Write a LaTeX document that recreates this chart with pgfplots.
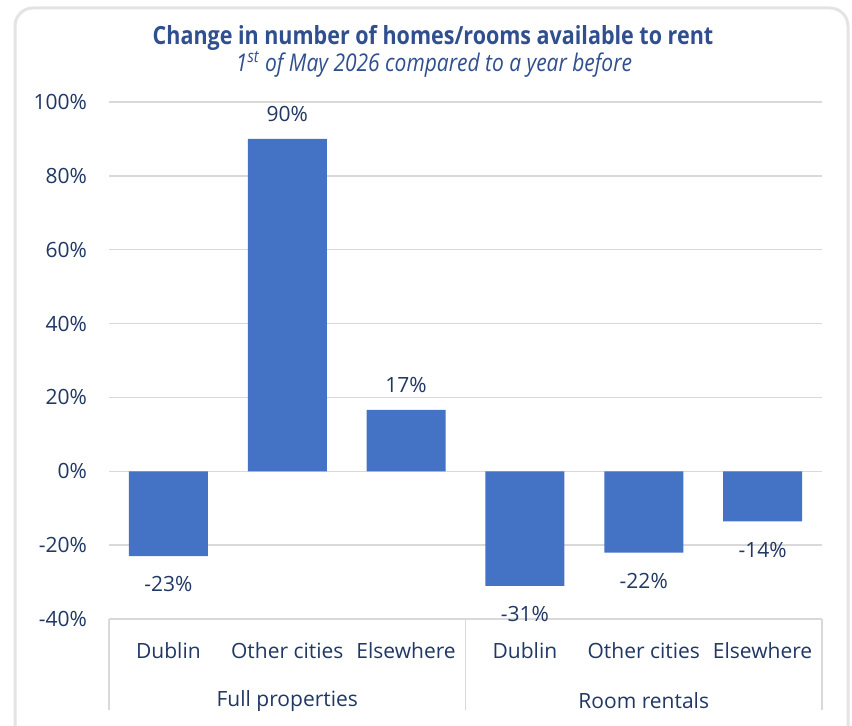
\documentclass[border=0pt]{standalone}
\usepackage{pgfplots}
\pgfplotsset{compat=1.18}
\usepackage{fontspec}
\setmainfont{Open Sans}
\newfontfamily\titlefont[FakeStretch=0.86]{Open Sans}
\definecolor{barblue}{HTML}{4472C4}
\definecolor{labnavy}{HTML}{203864}
\definecolor{titleblue}{HTML}{2F4F8F}
\definecolor{gridgray}{HTML}{D9D9D9}
\definecolor{framegray}{HTML}{E4E4E4}
\begin{document}
\begin{tikzpicture}
\path[use as bounding box] (0,0) rectangle (426pt,363pt);
\draw[framegray, line width=1.5pt, fill=white, rounded corners=9pt] (7.5pt,-20pt) rectangle (424pt,359pt);
\node[font=\titlefont\bfseries\fontsize{12.5}{14}\selectfont, text=titleblue] at (216.5pt,344pt) {Change in number of homes/rooms available to rent};
\node[font=\titlefont\itshape\fontsize{12.2}{14}\selectfont, text=titleblue] at (217pt,331pt) {1\textsuperscript{st} of May 2026 compared to a year before};
\begin{axis}[
  at={(54.5pt,53.5pt)}, anchor=south west,
  scale only axis, width=356.5pt, height=258.5pt,
  xmin=-0.5, xmax=5.5, ymin=-40, ymax=100,
  ytick={-40,-20,0,20,40,60,80,100},
  yticklabel={\pgfmathprintnumber{\tick}\%},
  xtick={0,1,2,3,4,5},
  xticklabels={Dublin,Other cities,Elsewhere,Dublin,Other cities,Elsewhere},
  ymajorgrids, grid style={gridgray, line width=0.75pt},
  axis line style={draw=none},
  major tick length=0pt,
  tick label style={font=\fontsize{10.5}{12}\selectfont, text=labnavy},
  yticklabel style={xshift=-7.5pt},
  xticklabel style={anchor=center, yshift=-16pt},
  /pgf/number format/assume math mode=true,
  clip=false,
  ybar, bar width=39.5pt,
  point meta=explicit symbolic,
  nodes near coords={\pgfplotspointmeta\%},
]
% positive changes
\addplot[fill=barblue, draw=none, bar shift=0pt,
  every node near coord/.append style={font=\fontsize{10.5}{12}\selectfont, text=labnavy, anchor=south, inner sep=8.5pt}]
  table[meta=lab] {
x y lab
1 90 90
2 16.6 17
};
% negative changes
\addplot[fill=barblue, draw=none, bar shift=0pt,
  every node near coord/.append style={font=\fontsize{10.5}{12}\selectfont, text=labnavy, anchor=north, inner sep=10pt}]
  table[meta=lab] {
x y lab
0 -23 -23
3 -31 -31
4 -22 -22
5 -13.6 -14
};
\draw[gridgray, line width=0.75pt] (axis cs:-0.5,-40) -- ++(0pt,-45.5pt);
\draw[gridgray, line width=0.75pt] (axis cs:2.5,-40) -- ++(0pt,-45.5pt);
\draw[gridgray, line width=0.75pt] (axis cs:5.5,-40) -- ++(0pt,-45.5pt);
\node[font=\fontsize{10.5}{12}\selectfont, text=labnavy] at ([yshift=-41pt]axis cs:1,-40) {Full properties};
\node[font=\fontsize{10.5}{12}\selectfont, text=labnavy] at ([yshift=-41pt]axis cs:4,-40) {Room rentals};
\end{axis}
\end{tikzpicture}
\end{document}
